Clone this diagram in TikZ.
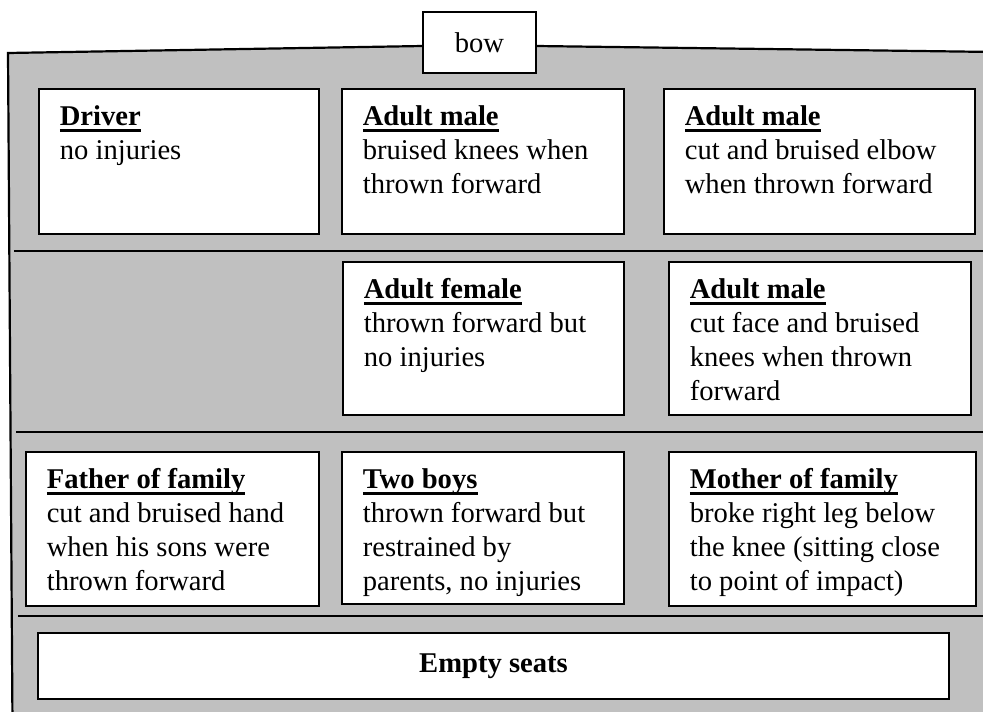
\documentclass[tikz,border=0pt]{standalone}
\usepackage{fontspec}
\setmainfont{Liberation Serif}
\usepackage{tikz}
\definecolor{hullgray}{RGB}{192,192,192}
\newsavebox{\whobox}
\newcommand{\who}[1]{\sbox{\whobox}{\textbf{#1}}\rlap{\usebox{\whobox}}\rule[-3.1pt]{\wd\whobox}{1.4pt}}
\newcommand{\seatbox}[3]{\parbox[t][\dimexpr#2-13.4pt\relax][t]{\dimexpr#1-21pt\relax}{\begin{tabular}[t]{@{}l@{}}#3\end{tabular}}}
\tikzset{
  hull/.style    = {fill=hullgray, draw=black, line width=1.1pt, line join=miter},
  aisle/.style   = {draw=black, line width=1pt},
  seat/.style    = {rectangle, draw=black, fill=white, line width=0.8pt, anchor=north west,
                    inner xsep=10.5pt, inner ysep=6.7pt, font=\fontsize{14.3}{16.9}\selectfont},
  seatrow/.style = {rectangle, draw=black, fill=white, line width=0.8pt, inner sep=0pt,
                    minimum width=455.5pt, minimum height=33pt, font=\fontsize{14.3}{16.9}\selectfont\bfseries},
  bowbox/.style  = {rectangle, draw=black, fill=white, line width=0.8pt, inner sep=0pt,
                    minimum width=56.5pt, minimum height=30.5pt, font=\fontsize{14.3}{16.9}\selectfont},
}
\begin{document}
\begin{tikzpicture}[x=0.5pt, y=-0.5pt]
  \useasboundingbox (0,0) rectangle (983,711);
  \clip (0,0) rectangle (983,711);
  \draw[hull] (8,53) -- (423,46) -- (536,46) -- (995,52) -- (995,725) -- (12.5,725) -- cycle;
  \draw[aisle] (14,251) -- (995,251);
  \draw[aisle] (16,432) -- (995,432);
  \draw[aisle] (18,616) -- (995,616);
  \node[bowbox] (bow) at (479.5,42.5) {bow};
  \node[seat] (driver) at (38,88)  {\seatbox{140pt}{72.5pt}{\who{Driver}\\ no injuries}};
  \node[seat] (maleA)  at (341,88) {\seatbox{141pt}{72.5pt}{\who{Adult male}\\ bruised knees when\\ thrown forward}};
  \node[seat] (maleB)  at (663,88) {\seatbox{155.5pt}{72.5pt}{\who{Adult male}\\ cut and bruised elbow\\ when thrown forward}};
  \node[seat] (female) at (342,261) {\seatbox{140.5pt}{76.5pt}{\who{Adult female}\\ thrown forward but\\ no injuries}};
  \node[seat] (maleC)  at (668,261) {\seatbox{151pt}{76.5pt}{\who{Adult male}\\ cut face and bruised\\ knees when thrown\\ forward}};
  \node[seat] (father) at (25,451)  {\seatbox{146.5pt}{77pt}{\who{Father of family}\\ cut and bruised hand\\ when his sons were\\ thrown forward}};
  \node[seat] (boys)   at (341,451) {\seatbox{141pt}{76pt}{\who{Two boys}\\ thrown forward but\\ restrained by\\ parents, no injuries}};
  \node[seat] (mother) at (668,451) {\seatbox{153.5pt}{77pt}{\who{Mother of family}\\ broke right leg below\\ the knee (sitting close\\ to point of impact)}};
  \node[seatrow] (empty) at (493.5,666) {Empty seats};
\end{tikzpicture}
\end{document}
